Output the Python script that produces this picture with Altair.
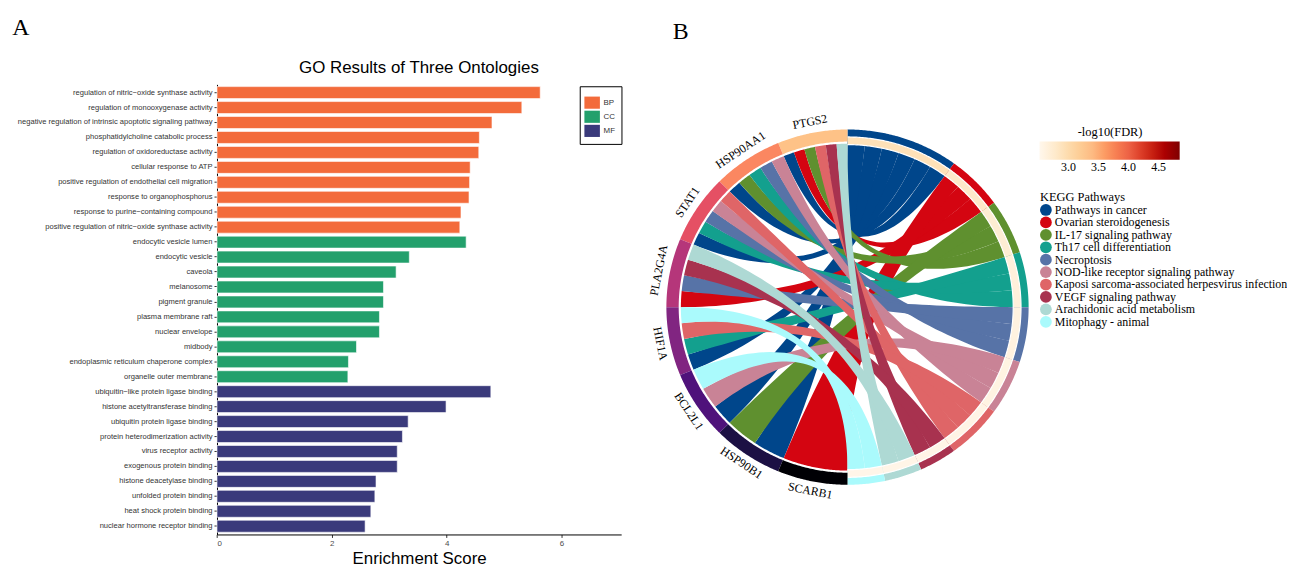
import math
import numpy as np
import pandas as pd
import altair as alt

# ---------------- Panel A: GO enrichment ----------------
go_terms = [
    "regulation of nitric\u2212oxide synthase activity",
    "regulation of monooxygenase activity",
    "negative regulation of intrinsic apoptotic signaling pathway",
    "phosphatidylcholine catabolic process",
    "regulation of oxidoreductase activity",
    "cellular response to ATP",
    "positive regulation of endothelial cell migration",
    "response to organophosphorus",
    "response to purine\u2212containing compound",
    "positive regulation of nitric\u2212oxide synthase activity",
    "endocytic vesicle lumen",
    "endocytic vesicle",
    "caveola",
    "melanosome",
    "pigment granule",
    "plasma membrane raft",
    "nuclear envelope",
    "midbody",
    "endoplasmic reticulum chaperone complex",
    "organelle outer membrane",
    "ubiquitin\u2212like protein ligase binding",
    "histone acetyltransferase binding",
    "ubiquitin protein ligase binding",
    "protein heterodimerization activity",
    "virus receptor activity",
    "exogenous protein binding",
    "histone deacetylase binding",
    "unfolded protein binding",
    "heat shock protein binding",
    "nuclear hormone receptor binding",
]
go_scores = [5.63, 5.31, 4.79, 4.57, 4.56, 4.41, 4.40, 4.39, 4.25, 4.23,
             4.34, 3.35, 3.12, 2.90, 2.90, 2.83, 2.83, 2.43, 2.29, 2.28,
             4.77, 3.99, 3.33, 3.23, 3.14, 3.14, 2.77, 2.75, 2.68, 2.58]
go_ontology = ["BP", "BP", "BP", "BP", "BP", "BP", "BP", "BP", "BP", "BP",
               "CC", "CC", "CC", "CC", "CC", "CC", "CC", "CC", "CC", "CC",
               "MF", "MF", "MF", "MF", "MF", "MF", "MF", "MF", "MF", "MF"]
ontologies = ["BP", "CC", "MF"]
ontology_colors = ["#F36B3B", "#23A06C", "#3A3A7B"]
x_ticks = [0, 2, 4, 6]

# ---------------- Panel B: KEGG chord ----------------
genes = ["PTGS2", "HSP90AA1", "STAT1", "PLA2G4A", "HIF1A", "BCL2L1", "HSP90B1", "SCARB1"]
gene_colors = ["#FEC287", "#FB8761", "#E55064", "#B5367A", "#812581", "#4F127B", "#1C1044", "#000004"]
pathways = [
    "Pathways in cancer",
    "Ovarian steroidogenesis",
    "IL-17 signaling pathway",
    "Th17 cell differentiation",
    "Necroptosis",
    "NOD-like receptor signaling pathway",
    "Kaposi sarcoma-associated herpesvirus infection",
    "VEGF signaling pathway",
    "Arachidonic acid metabolism",
    "Mitophagy - animal",
]
pathway_colors = ["#00468B", "#D40511", "#5F902F", "#13A08E", "#5773A7",
                  "#C98396", "#DF6567", "#A8324F", "#AED9D4", "#AAFAFC"]
pathway_fdr = [2.92, 2.80, 2.72, 2.66, 2.62, 2.60, 2.58, 2.57, 2.56, 2.55]
pathway_genes = [
    ["PTGS2", "HSP90AA1", "STAT1", "HIF1A", "BCL2L1", "HSP90B1"],
    ["PTGS2", "PLA2G4A", "SCARB1"],
    ["PTGS2", "HSP90AA1", "HSP90B1"],
    ["HSP90AA1", "STAT1", "HIF1A"],
    ["HSP90AA1", "STAT1", "PLA2G4A"],
    ["HSP90AA1", "STAT1", "BCL2L1"],
    ["PTGS2", "STAT1", "HIF1A"],
    ["PTGS2", "PLA2G4A"],
    ["PTGS2", "PLA2G4A"],
    ["HIF1A", "BCL2L1"],
]
fdr_ticks = [3.0, 3.5, 4.0, 4.5]
# OrRd colour stops for the -log10(FDR) scale
fdr_stops = [2.52, 2.81, 3.10, 3.39, 3.69, 3.98, 4.27, 4.56, 4.85]
fdr_colors = ["#FFF7EC", "#FEE8C8", "#FDD49E", "#FDBB84", "#FC8D59",
              "#EF6548", "#D7301F", "#B30000", "#7F0000"]

# ---------------- geometry helpers (from the data above) ----------------
R_RIB = 0.92


def pt(theta, r):
    t = math.radians(theta)
    return r * math.sin(t), r * math.cos(t)


def arc(a, b, r, step=0.5):
    n = max(2, int(abs(b - a) / step) + 1)
    return [pt(a + (b - a) * k / (n - 1), r) for k in range(n)]


def bez(p0, p1, n=48):
    out = []
    for t in np.linspace(0, 1, n):
        out.append(((1 - t) ** 2 * p0[0] + t * t * p1[0], (1 - t) ** 2 * p0[1] + t * t * p1[1]))
    return out


def ring(a, b, r_out, r_in):
    return arc(a, b, r_out) + arc(b, a, r_in)


n_links_total = sum(len(g) for g in pathway_genes)
link_deg = 180.0 / n_links_total
gene_span = 180.0 / len(genes)

gene_links = {g: [p for p, gl in zip(pathways, pathway_genes) if g in gl] for g in genes}
gene_lo = {g: 360 - gene_span * (i + 1) for i, g in enumerate(genes)}

path_lo = {}
acc = 0.0
for p, gl in zip(pathways, pathway_genes):
    path_lo[p] = acc
    acc += link_deg * len(gl)

rib_rows = []
sid = 0
for pi, (p, gl) in enumerate(zip(pathways, pathway_genes)):
    g_sorted = sorted(gl, key=lambda g: -genes.index(g))
    for g in gl:
        links = gene_links[g]
        w = gene_span / len(links)
        k = links.index(p)
        ga = gene_lo[g] + k * w
        gb = ga + w
        kp = g_sorted.index(g)
        pa = path_lo[p] + kp * link_deg
        pb = pa + link_deg
        poly = arc(ga, gb, R_RIB) + bez(pt(gb, R_RIB), pt(pa, R_RIB)) + arc(pa, pb, R_RIB) + bez(pt(pb, R_RIB), pt(ga, R_RIB))
        for i, (x, y) in enumerate(poly):
            rib_rows.append({"x": x, "y": y, "i": i, "sid": f"r{sid:03d}", "pathway": p})
        sid += 1
rib_df = pd.DataFrame(rib_rows)

pring_rows, fring_rows = [], []
for p, gl, f in zip(pathways, pathway_genes, pathway_fdr):
    a = path_lo[p]
    b = a + link_deg * len(gl)
    for i, (x, y) in enumerate(ring(a, b, 1.0, R_RIB - 0.003)):
        pring_rows.append({"x": x, "y": y, "i": i, "sid": p, "pathway": p})
    for i, (x, y) in enumerate(ring(a, b, 0.958, 0.915)):
        fring_rows.append({"x": x, "y": y, "i": i, "sid": p, "fdr": f})
pring_df = pd.DataFrame(pring_rows)
fring_df = pd.DataFrame(fring_rows)

edge_rows = []
for name, r in [("outer", 0.958), ("inner", 0.915)]:
    for i, (x, y) in enumerate(arc(0, 180, r)):
        edge_rows.append({"x": x, "y": y, "i": i, "sid": name})
edge_df = pd.DataFrame(edge_rows)

gring_rows = []
lab_up, lab_dn = [], []
for gi, (g, c) in enumerate(zip(genes, gene_colors)):
    a = gene_lo[g]
    b = a + gene_span
    for i, (x, y) in enumerate(ring(a, b, 1.0, 0.932)):
        gring_rows.append({"x": x, "y": y, "i": i, "sid": g, "col": c})
    mid = (a + b) / 2
    lx, ly = pt(mid, 1.025)
    if mid > 270:
        lab_up.append({"x": lx, "y": ly, "gene": g, "ang": mid})
    else:
        lab_dn.append({"x": lx, "y": ly, "gene": g, "ang": mid - 180})
gring_df = pd.DataFrame(gring_rows)

# ---------------- Panel A chart (absolute pixel ranges in one canvas) ----------------
go_df = pd.DataFrame({"term": go_terms, "score": go_scores, "ontology": go_ontology})

VIEW_W, VIEW_H = 1287, 560

bars = alt.Chart(go_df).mark_bar(stroke="white", strokeWidth=0.6).encode(
    x=alt.X("score:Q", scale=alt.Scale(domain=[0, 7.04], range=[210.3, 617], nice=False, zero=True),
            axis=alt.Axis(values=x_ticks, format="d", title="Enrichment Score", grid=False,
                          offset=528 - VIEW_H,
                          domainColor="black", domainWidth=1, tickColor="#333333", tickSize=3,
                          labelFont="Liberation Sans", labelFontSize=8, labelColor="#4D4D4D",
                          labelPadding=2, titleFont="Liberation Sans", titleFontSize=17,
                          titleFontWeight="normal", titleColor="black", titlePadding=3)),
    y=alt.Y("term:N", sort=None,
            scale=alt.Scale(range=[75.1, 528], paddingInner=0.2, paddingOuter=0.15),
            axis=alt.Axis(title=None, grid=False, offset=-210.3, domainColor="black", domainWidth=1,
                          tickColor="#333333", tickSize=3, labelFont="Liberation Sans",
                          labelFontSize=7.6, labelColor="#333333", labelPadding=2, labelLimit=400)),
    color=alt.Color("ontology:N", scale=alt.Scale(domain=ontologies, range=ontology_colors),
                    legend=alt.Legend(title="\u2003" * 9, titleFontSize=4, titlePadding=0,
                                      orient="none", legendX=575.3, legendY=77,
                                      symbolType="M-1.2,-0.94H1.2V0.94H-1.2Z", symbolSize=169,
                                      symbolStrokeWidth=0, labelFont="Liberation Sans",
                                      labelFontSize=8, labelColor="#333333", labelOffset=5,
                                      rowPadding=1.2, padding=6, strokeColor="black")),
)

title_a = alt.Chart(pd.DataFrame({"t": ["GO Results of Three Ontologies"]})).mark_text(
    font="Liberation Sans", fontSize=17, color="black", align="center", baseline="middle"
).encode(x=alt.value(413.5), y=alt.value(59), text="t:N")

label_a = alt.Chart(pd.DataFrame({"t": ["A"]})).mark_text(
    font="Liberation Serif", fontSize=24, color="black", align="center", baseline="middle"
).encode(x=alt.value(13), y=alt.value(18), text="t:N")

label_b = alt.Chart(pd.DataFrame({"t": ["B"]})).mark_text(
    font="Liberation Serif", fontSize=24, color="black", align="center", baseline="middle"
).encode(x=alt.value(677), y=alt.value(22), text="t:N")

# ---------------- Panel B chart ----------------
XS = alt.Scale(domain=[-1, 1], range=[662.5, 1027], nice=False, zero=False)
YS = alt.Scale(domain=[-1, 1], range=[478, 120.5], nice=False, zero=False)


def xy():
    return dict(x=alt.X("x:Q", scale=XS, axis=None), y=alt.Y("y:Q", scale=YS, axis=None))


ribbons = alt.Chart(rib_df).mark_line(filled=True, strokeWidth=0).encode(
    **xy(), order=alt.Order("i:Q"), detail="sid:N",
    color=alt.Color("pathway:N", scale=alt.Scale(domain=pathways, range=pathway_colors),
                    legend=alt.Legend(title="KEGG Pathways", orient="none", legendX=1038.4, legendY=182,
                                      symbolType="circle", symbolSize=140, symbolStrokeWidth=0,
                                      symbolOpacity=1, labelFont="Liberation Serif", labelFontSize=12,
                                      labelColor="black", labelOffset=3, labelLimit=400,
                                      titleFont="Liberation Serif", titleFontSize=12.5,
                                      titleFontWeight="normal", titleColor="black", titlePadding=1,
                                      rowPadding=0.5)),
)

pring = alt.Chart(pring_df).mark_line(filled=True, strokeWidth=0).encode(
    **xy(), order=alt.Order("i:Q"), detail="sid:N",
    color=alt.Color("pathway:N", scale=alt.Scale(domain=pathways, range=pathway_colors), legend=None),
)

fring = alt.Chart(fring_df).mark_line(filled=True, strokeWidth=0).encode(
    **xy(), order=alt.Order("i:Q"), detail="sid:N",
    color=alt.Color("fdr:Q", scale=alt.Scale(domain=fdr_stops, range=fdr_colors, clamp=True),
                    legend=alt.Legend(title="-log10(FDR)", type="gradient", orient="none",
                                      legendX=1038, legendY=117, direction="horizontal",
                                      gradientLength=141, gradientThickness=18.5,
                                      gradientStrokeWidth=0, values=fdr_ticks, format=".1f",
                                      labelFont="Liberation Serif", labelFontSize=12,
                                      labelColor="black", titleFont="Liberation Serif",
                                      titleFontSize=12.5, titleFontWeight="normal",
                                      titleColor="black", titleAnchor="middle", titlePadding=3)),
)

fedge = alt.Chart(edge_df).mark_line(color="white", strokeWidth=1.2).encode(
    **xy(), order=alt.Order("i:Q"), detail="sid:N",
)

gring = alt.Chart(gring_df).mark_line(filled=True, strokeWidth=0).encode(
    **xy(), order=alt.Order("i:Q"), detail="sid:N",
    color=alt.Color("col:N", scale=None),
)

labels_up = alt.Chart(pd.DataFrame(lab_up)).mark_text(
    font="Liberation Serif", fontSize=12, color="black", align="center", baseline="bottom"
).encode(**xy(), text="gene:N", angle=alt.Angle("ang:Q", scale=None))

labels_dn = alt.Chart(pd.DataFrame(lab_dn)).mark_text(
    font="Liberation Serif", fontSize=12, color="black", align="center", baseline="top"
).encode(**xy(), text="gene:N", angle=alt.Angle("ang:Q", scale=None))

chord = alt.layer(ribbons, pring, fring, fedge, gring, labels_up, labels_dn).resolve_scale(
    color="independent"
)

no_box = alt.ViewBackground(strokeWidth=0, strokeOpacity=0)

chart = alt.layer(bars, title_a, label_a, label_b, chord).resolve_scale(
    x="independent", y="independent", color="independent"
).properties(
    width=VIEW_W, height=VIEW_H, padding=0, view=no_box,
    autosize=alt.AutoSizeParams(type="none"),
).configure_view(strokeWidth=0, strokeOpacity=0)

chart.save("out.html", embed_options={"renderer": "svg", "actions": False})
